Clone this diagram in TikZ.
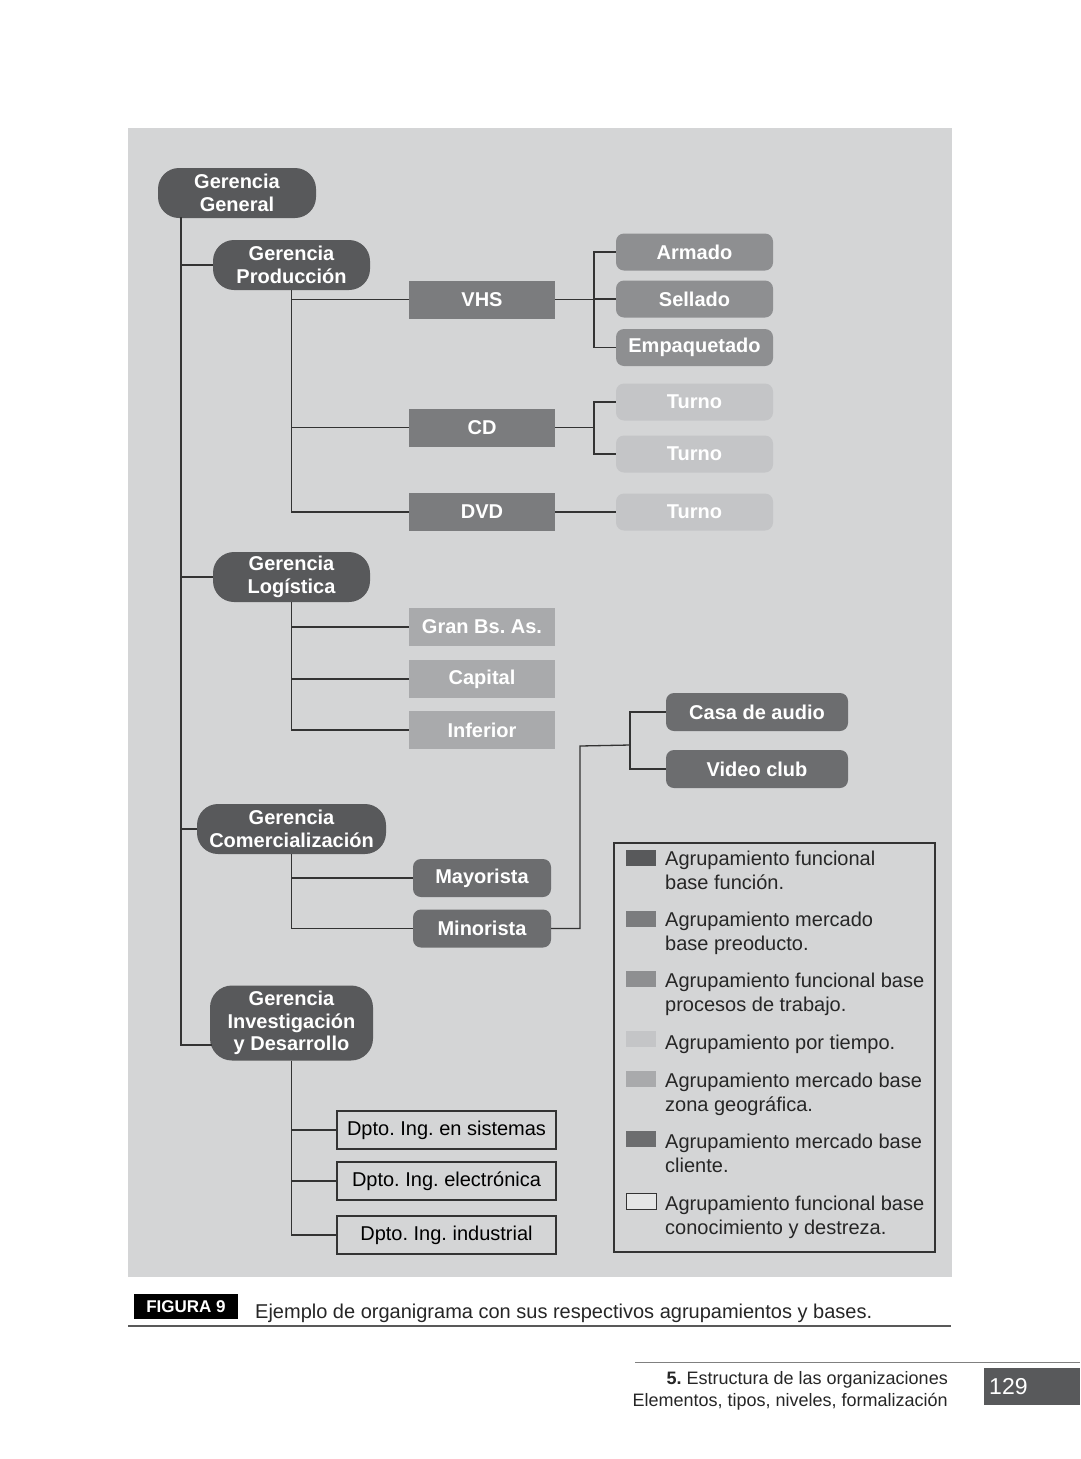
\documentclass[tikz,border=0pt]{standalone}
\usepackage{fontspec}
\setmainfont{Liberation Sans}
\frenchspacing
\definecolor{bgc}{HTML}{D4D5D6}
\definecolor{cfun}{HTML}{58595B}
\definecolor{cprod}{HTML}{7B7C7E}
\definecolor{cproc}{HTML}{8E8F91}
\definecolor{ctime}{HTML}{C4C5C7}
\definecolor{cgeo}{HTML}{A9AAAC}
\definecolor{ccli}{HTML}{6C6D6F}
\definecolor{lnc}{HTML}{333333}
\begin{document}
\begin{tikzpicture}[x=1pt,y=-1pt,
  box/.style={inner sep=0pt, align=center, text=white, font=\fontsize{20}{22.5}\selectfont\bfseries},
  pill/.style={box, fill=cfun, rounded corners=21pt, minimum height=50pt},
  prod/.style={box, fill=cprod, minimum width=146pt, minimum height=38pt},
  proc/.style={box, fill=cproc, rounded corners=8pt, minimum width=157pt, minimum height=37pt},
  tiempo/.style={box, fill=ctime, rounded corners=8pt, minimum width=157pt, minimum height=37pt},
  geo/.style={box, fill=cgeo, minimum width=146pt, minimum height=38pt},
  cli/.style={box, fill=ccli, rounded corners=8pt, minimum height=38pt},
  dpto/.style={draw=lnc, line width=1.3pt, fill=bgc, inner sep=0pt, minimum width=219pt, minimum height=38pt, font=\fontsize{20}{22}\selectfont},
  conn/.style={draw=lnc, line width=1.3pt},
  swatch/.style={minimum width=30pt, minimum height=16pt, inner sep=0pt},
  legtext/.style={anchor=north west, inner sep=0pt, align=left, font=\fontsize{20}{24}\selectfont, text=black!85}
]
\useasboundingbox (0,0) rectangle (1080,1459);
\fill[white] (0,0) rectangle (1080,1459);
\fill[bgc] (128,128) rectangle (952,1277);

% nodes
\node[pill, minimum width=158pt] (gg) at (237,193) {Gerencia\\General};
\node[pill, minimum width=157pt] (gp) at (291.5,265) {Gerencia\\Producción};
\node[pill, minimum width=157pt] (gl) at (291.5,577) {Gerencia\\Logística};
\node[pill, minimum width=189pt] (gc) at (291.5,829) {Gerencia\\Comercialización};
\node[pill, minimum width=163pt, minimum height=75pt, rounded corners=22pt] (gid) at (291.5,1023) {Gerencia\\Investigación\\y Desarrollo};

\node[prod] (vhs) at (482,299.5) {VHS};
\node[prod] (cd) at (482,427.5) {CD};
\node[prod] (dvd) at (482,512) {DVD};

\node[proc] (arm) at (694.5,252) {Armado};
\node[proc] (sel) at (694.5,299) {Sellado};
\node[proc] (emp) at (694.5,347.5) {Empaquetado};

\node[tiempo] (t1) at (694.5,402) {Turno};
\node[tiempo] (t2) at (694.5,454) {Turno};
\node[tiempo] (t3) at (694.5,512) {Turno};

\node[geo] (gran) at (482,627) {Gran Bs. As.};
\node[geo] (capi) at (482,679) {Capital};
\node[geo] (infe) at (482,730) {Inferior};

\node[cli, minimum width=138pt] (may) at (482,878) {Mayorista};
\node[cli, minimum width=138pt] (mino) at (482,928.5) {Minorista};
\node[cli, minimum width=182pt] (casa) at (757,712) {Casa de audio};
\node[cli, minimum width=182pt] (video) at (757,769) {Video club};

\node[dpto] (d1) at (446.5,1130) {Dpto. Ing. en sistemas};
\node[dpto] (d2) at (446.5,1181) {Dpto. Ing. electrónica};
\node[dpto] (d3) at (446.5,1235) {Dpto. Ing. industrial};

% connectors
\coordinate (mtop) at (181,217);
\coordinate (gidin) at (212,1045);
\draw[conn] (mtop) |- (gp.west);
\draw[conn] (mtop) |- (gl.west);
\draw[conn] (mtop) |- (gc.west);
\draw[conn] (mtop) |- (gidin);

\draw[conn] (gp.south) |- (vhs.west);
\draw[conn] (gp.south) |- (cd.west);
\draw[conn] (gp.south) |- (dvd.west);

\coordinate (j1) at (594,299.5);
\draw[conn] (vhs.east) -- (j1);
\draw[conn] (j1) |- (arm.west);
\draw[conn] (j1) |- (sel.west);
\draw[conn] (j1) |- (emp.west);

\coordinate (j2) at (594,427.5);
\draw[conn] (cd.east) -- (j2);
\draw[conn] (j2) |- (t1.west);
\draw[conn] (j2) |- (t2.west);
\draw[conn] (dvd.east) -- (t3.west);

\draw[conn] (gl.south) |- (gran.west);
\draw[conn] (gl.south) |- (capi.west);
\draw[conn] (gl.south) |- (infe.west);

\draw[conn] (gc.south) |- (may.west);
\draw[conn] (gc.south) |- (mino.west);

\coordinate (k1) at (580,746);
\coordinate (j3) at (630,745);
\draw[conn] (mino.east) -| (k1) -- (j3);
\draw[conn] (j3) |- (casa.west);
\draw[conn] (j3) |- (video.west);

\draw[conn] (gid.south) |- (d1.west);
\draw[conn] (gid.south) |- (d2.west);
\draw[conn] (gid.south) |- (d3.west);

% legend
\draw[draw=lnc, line width=1.2pt] (614,843) rectangle (935,1252);
\node[swatch, fill=cfun] (s1) at (641,858) {};
\node[swatch, fill=cprod] (s2) at (641,919) {};
\node[swatch, fill=cproc] (s3) at (641,979) {};
\node[swatch, fill=ctime] (s4) at (641,1039) {};
\node[swatch, fill=cgeo] (s5) at (641,1079) {};
\node[swatch, fill=ccli] (s6) at (641,1139) {};
\node[swatch, draw=lnc, line width=1pt, fill=bgc!60!white] (s7) at (641,1201) {};

\node[legtext] (l1) at (665,851) {Agrupamiento funcional\\base función.};
\node[legtext] (l2) at (665,912) {Agrupamiento mercado\\base preoducto.};
\node[legtext] (l3) at (665,973) {Agrupamiento funcional base\\procesos de trabajo.};
\node[legtext] (l4) at (665,1035) {Agrupamiento por tiempo.};
\node[legtext] (l5) at (665,1073) {Agrupamiento mercado base\\zona geográfica.};
\node[legtext] (l6) at (665,1134) {Agrupamiento mercado base\\cliente.};
\node[legtext] (l7) at (665,1196) {Agrupamiento funcional base\\conocimiento y destreza.};

% caption
\node[fill=black, text=white, inner sep=0pt, minimum width=104pt, minimum height=25pt, font=\fontsize{17}{18}\selectfont\bfseries] (fig) at (186,1306.5) {FIGURA 9};
\node[anchor=west, inner sep=0pt, font=\fontsize{20}{22}\selectfont, text=black!85] (cap) at (255,1313) {Ejemplo de organigrama con sus respectivos agrupamientos y bases.};
\draw[black!65, line width=1.2pt] (128,1326) -- (951,1326);

% footer
\draw[black!50, line width=1pt] (635,1362) -- (1080,1362);
\node[anchor=east, inner sep=0pt, font=\fontsize{18}{20}\selectfont, text=black!85] (f1) at (948,1380) {\textbf{5.} Estructura de las organizaciones};
\node[anchor=east, inner sep=0pt, font=\fontsize{18}{20}\selectfont, text=black!85] (f2) at (948,1402) {Elementos, tipos, niveles, formalización};
\fill[cfun] (984,1368) rectangle (1080,1405);
\node[anchor=west, inner sep=0pt, text=white, font=\fontsize{23}{24}\selectfont] (pg) at (989,1387) {129};
\end{tikzpicture}
\end{document}
